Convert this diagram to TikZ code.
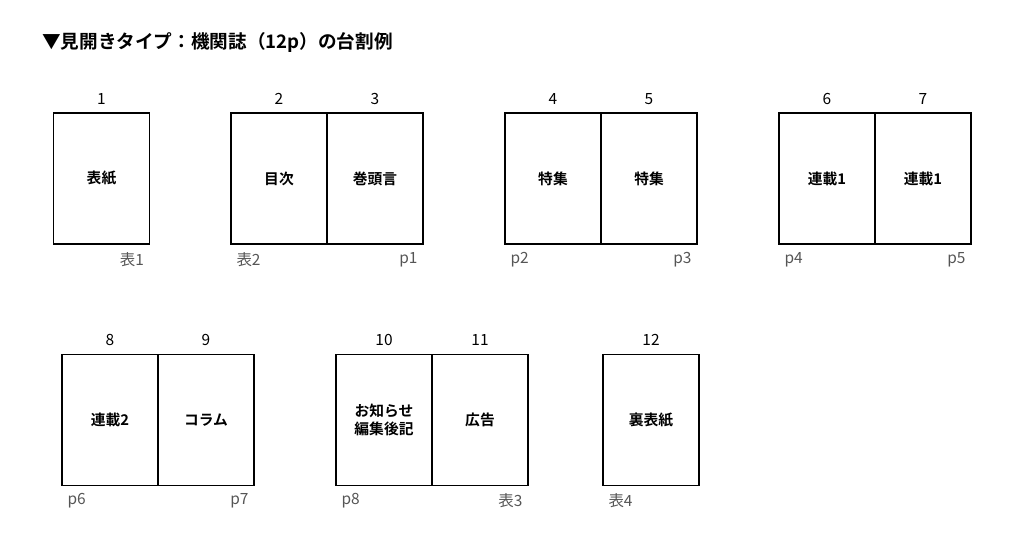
\documentclass[tikz,border=0pt]{standalone}
\usepackage{fontspec}
\setmainfont{Noto Sans CJK JP}[BoldFont={Noto Sans CJK JP Bold}]
\definecolor{pgray}{HTML}{555555}
\tikzset{
  page/.style={draw, line width=0.8pt, minimum width=96*0.02cm, minimum height=131*0.02cm, inner sep=0pt, font=\fontsize{8.4}{10.5}\selectfont\bfseries, align=center},
  num/.style={above=1pt, font=\fontsize{8.8}{10}\selectfont},
  pno/.style={font=\fontsize{8.8}{10}\selectfont, text=pgray, inner ysep=4pt}
}
\begin{document}
\begin{tikzpicture}[x=0.02cm, y=-0.02cm]
  \useasboundingbox (0,0) rectangle (1024,542);
  \node[anchor=west, font=\fontsize{10.6}{12}\selectfont\bfseries] (title) at (36,42) {▼見開きタイプ：機関誌（12p）の台割例};
  % row 1
  \node[page] (p1) at (101.5,178.5) {表紙};
  \node[page] (p2) at (279,178.5) {目次};
  \node[page] (p3) at (375,178.5) {巻頭言};
  \node[page] (p4) at (553,178.5) {特集};
  \node[page] (p5) at (649,178.5) {特集};
  \node[page] (p6) at (827,178.5) {連載1};
  \node[page] (p7) at (923,178.5) {連載1};
  % row 2
  \node[page] (p8) at (110,420) {連載2};
  \node[page] (p9) at (206,420) {コラム};
  \node[page] (p10) at (384,420) {お知らせ\\編集後記};
  \node[page] (p11) at (480,420) {広告};
  \node[page] (p12) at (651,420) {裏表紙};
  \foreach \i in {1,...,12} \node[num] (n\i) at (p\i.north) {\i};
  % page labels
  \node[pno, anchor=north east] (l1) at (p1.south east) {表1};
  \node[pno, anchor=north west] (l2) at (p2.south west) {表2};
  \node[pno, anchor=north east] (l3) at (p3.south east) {p1};
  \node[pno, anchor=north west] (l4) at (p4.south west) {p2};
  \node[pno, anchor=north east] (l5) at (p5.south east) {p3};
  \node[pno, anchor=north west] (l6) at (p6.south west) {p4};
  \node[pno, anchor=north east] (l7) at (p7.south east) {p5};
  \node[pno, anchor=north west] (l8) at (p8.south west) {p6};
  \node[pno, anchor=north east] (l9) at (p9.south east) {p7};
  \node[pno, anchor=north west] (l10) at (p10.south west) {p8};
  \node[pno, anchor=north east] (l11) at (p11.south east) {表3};
  \node[pno, anchor=north west] (l12) at (p12.south west) {表4};
\end{tikzpicture}
\end{document}
